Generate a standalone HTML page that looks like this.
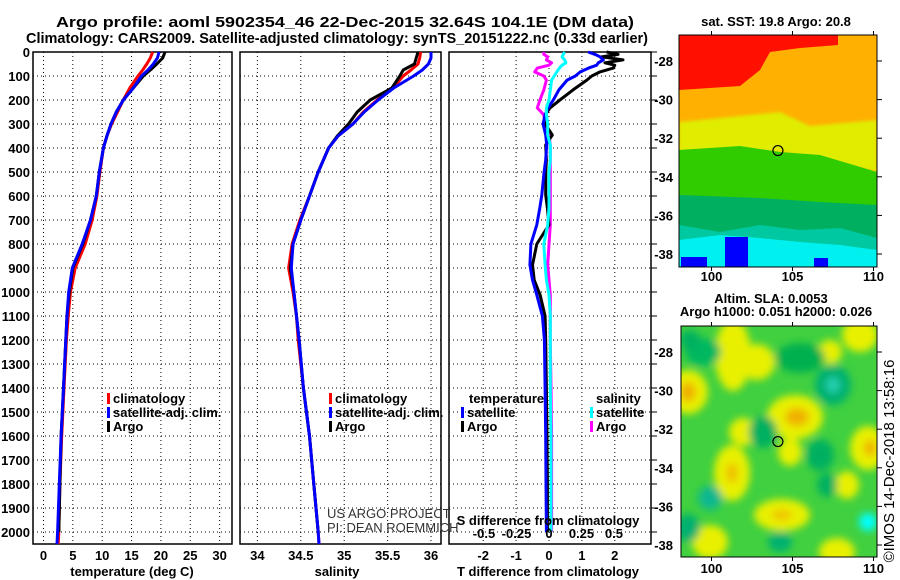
<!DOCTYPE html>
<html><head><meta charset="utf-8"><style>
html,body{margin:0;padding:0;background:#fff;}
svg{display:block;font-family:"Liberation Sans",Arial,sans-serif;}
.b{font-weight:bold;font-size:13px;}
</style></head><body>
<svg id="chart" width="900" height="580" viewBox="0 0 900 580" xmlns="http://www.w3.org/2000/svg">
<defs>
<filter id="blur" x="-20%" y="-20%" width="140%" height="140%"><feGaussianBlur stdDeviation="4"/></filter>
<filter id="blur2" x="-20%" y="-20%" width="140%" height="140%"><feGaussianBlur stdDeviation="1.5"/></filter>
<clipPath id="clipTop"><rect x="679" y="35" width="198" height="232"/></clipPath>
<clipPath id="clipBot"><rect x="681" y="326" width="196" height="231"/></clipPath>
</defs>
<text x="345" y="27" text-anchor="middle" font-weight="bold" font-size="15" textLength="578" lengthAdjust="spacingAndGlyphs">Argo profile: aoml 5902354_46 22-Dec-2015 32.64S 104.1E (DM data)</text>
<text x="337" y="43" text-anchor="middle" font-weight="bold" font-size="15" textLength="622" lengthAdjust="spacingAndGlyphs">Climatology: CARS2009. Satellite-adjusted climatology: synTS_20151222.nc (0.33d earlier)</text>
<g id="profiles"></g>
<g id="maps"></g>
</svg>
<script>
// ---- data ----
const depthTicks = [0,100,200,300,400,500,600,700,800,900,1000,1100,1200,1300,1400,1500,1600,1700,1800,1900,2000];
const tempTicks = [0,5,10,15,20,25,30];
const salTicks = [34,34.5,35,35.5,36];
const salTickLabels = ["34","34.5","35","35.5","36"];
const tdiffTicks = [-2,-1,0,1,2];
const sdiffTicks = [-0.5,-0.25,0,0.25,0.5];
const sdiffTickLabels = ["-0.5","-0.25","0","0.25","0.5"];

const profDepth = [0,25,50,75,100,150,200,250,300,350,400,500,600,700,800,900,1000,1100,1200,1400,1600,1800,2000,2050];
const climT = [18.6,18.2,17.6,16.9,16.1,14.7,13.6,12.6,11.6,10.8,10.2,9.6,9.1,8.3,7.1,5.4,4.6,4.2,3.9,3.5,3.1,2.8,2.6,2.5];
const satT  = [19.7,19.4,18.7,17.8,16.7,15.3,13.6,12.4,11.5,10.8,10.2,9.5,9.0,8.0,6.6,4.9,4.3,4.0,3.8,3.4,3.0,2.7,2.4,2.3];
const argoT = [20.7,20.3,19.3,18.2,17.0,15.3,13.6,12.4,11.5,10.8,10.2,9.5,9.0,8.0,6.7,5.0,4.4,4.0,3.8,3.4,3.0,2.8,2.6];
const climS = [35.88,35.87,35.85,35.77,35.68,35.56,35.38,35.22,35.1,34.93,34.82,34.7,34.6,34.49,34.4,34.36,34.41,34.45,34.47,34.53,34.6,34.65,34.7,34.71];
const satS  = [36.0,36.0,35.97,35.9,35.8,35.57,35.39,35.23,35.1,34.93,34.82,34.7,34.6,34.5,34.41,34.39,34.42,34.45,34.48,34.53,34.6,34.65,34.7,34.71];
const argoS = [35.85,35.83,35.81,35.68,35.64,35.55,35.3,35.15,35.05,34.92,34.82,34.7,34.6,34.5,34.41,34.38,34.42,34.45,34.48,34.53,34.6,34.65,34.7];

const diffDepth = [0,10,20,33,45,55,67,83,100,117,158,200,233,262,300,346,387,450,500,596,650,720,800,887,950,1012,1100,1200,1400,1600,1800,2000];
const argoTdiff = [1.75,2.1,1.6,2.25,1.7,2.0,1.95,1.55,1.3,1.15,0.73,0.33,0.03,-0.12,-0.12,0.1,-0.1,-0.08,-0.1,-0.1,-0.05,0,-0.37,-0.5,-0.45,-0.27,-0.12,-0.1,-0.08,-0.06,-0.05,-0.05];
const satTdiff  = [1.19,1.4,1.55,1.65,1.5,1.45,1.2,0.95,0.8,0.55,0.3,0.13,-0.03,-0.12,-0.18,-0.1,-0.07,-0.1,-0.15,-0.22,-0.28,-0.37,-0.55,-0.58,-0.5,-0.37,-0.2,-0.14,-0.12,-0.1,-0.09,-0.08];
const argoSdiff = [-0.04,-0.04,-0.01,-0.02,0.02,0.0,-0.09,-0.11,-0.04,-0.02,-0.04,-0.07,-0.09,-0.04,-0.03,0.0,0.01,0.01,0.01,0.01,0.01,0.01,0.0,-0.01,0.0,0.01,0.01,0.01,0.015,0.02,0.02,0.02];
const satSdiff  = [0.12,0.11,0.1,0.12,0.13,0.1,0.08,0.06,0.04,0.02,0.01,0.0,-0.02,-0.02,-0.01,-0.01,0.01,0.01,0.0,0.0,0.0,-0.01,-0.04,-0.03,-0.02,0.0,0.01,0.01,0.01,0.015,0.015,0.015];

const latTicks = [-28,-30,-32,-34,-36,-38];
const lonTicks = [100,105,110];
const argoLon = 104.1, argoLat = -32.64;

// ---- helpers ----
const NS = "http://www.w3.org/2000/svg";
function mk(tag, attrs, parent){const e=document.createElementNS(NS,tag);for(const k in attrs)e.setAttribute(k,attrs[k]);if(parent)parent.appendChild(e);return e;}
const P = document.getElementById('profiles');
const TOP = 52, BOT = 544;
const yD = d => TOP + d*0.24;
function lin(d0,d1,r0,r1){return v=>r0+(v-d0)*(r1-r0)/(d1-d0);}
const xT = lin(0,30,43.5,219.6);
const xS = lin(34,36,257.4,431);
const xTd = lin(0,1,549,581.9);
const xSd = lin(0,1,549,679);

function txt(x,y,s,anchor,cls,name,extra){const t=mk('text',Object.assign({x:x,y:y,'text-anchor':anchor||'start',class:cls||'b'},extra||{}),P);t.textContent=s;return t;}

function panel(x0,x1,name,xTickVals,xf,xTickLabs){
  const g = mk('g',{},P);
  
  
  depthTicks.forEach(d=>{mk('line',{x1:x0,x2:x1,y1:yD(d),y2:yD(d),stroke:'#000','stroke-dasharray':'1,3','stroke-width':1},g);});
  xTickVals.forEach((v,i)=>{const x=xf(v);mk('line',{x1:x,x2:x,y1:TOP,y2:BOT,stroke:'#000','stroke-dasharray':'1,3','stroke-width':1},g);
    if(xTickLabs){txt(x,560,xTickLabs[i],'middle','b',name+'-x-tick');}});
  mk('rect',{x:x0,y:TOP,width:x1-x0,height:BOT-TOP,fill:'none',stroke:'#000','stroke-width':1.5},g);
  return g;
}
panel(33,232,'temperature-panel',tempTicks,xT,tempTicks.map(String));
panel(240,441,'salinity-panel',salTicks,xS,salTickLabels);
panel(449,651,'difference-panel',tdiffTicks,xTd,tdiffTicks.map(String));
depthTicks.forEach(d=>{txt(30,yD(d)+5,String(d),'end','b','depth-tick-label');
  mk('line',{x1:651,x2:657,y1:yD(d),y2:yD(d),stroke:'#000','stroke-width':1},P);});

function line(xs,ds,xf,color,name,w){
  const pts = xs.map((v,i)=>xf(v).toFixed(1)+','+yD(ds[i]).toFixed(1)).join(' ');
  const pl = mk('polyline',{points:pts,fill:'none',stroke:color,'stroke-width':w||3,'stroke-linejoin':'round'},P);
  
  
}
line(climT,profDepth,xT,'#ff0000','temp-climatology-line');
line(argoT,profDepth.slice(0,argoT.length),xT,'#000','temp-argo-line');
line(satT,profDepth,xT,'#0000ff','temp-satellite-line');
line(climS,profDepth,xS,'#ff0000','sal-climatology-line');
line(argoS,profDepth.slice(0,argoS.length),xS,'#000','sal-argo-line');
line(satS,profDepth,xS,'#0000ff','sal-satellite-line');
line(argoSdiff,diffDepth,xSd,'#ff00ff','sdiff-argo-line');
line(argoTdiff,diffDepth,xTd,'#000','tdiff-argo-line');
line(satTdiff,diffDepth,xTd,'#0000ff','tdiff-satellite-line');
line(satSdiff,diffDepth,xSd,'#00ffff','sdiff-satellite-line');

sdiffTicks.forEach((v,i)=>{txt(xSd(v),538,sdiffTickLabels[i],'middle','b','sdiff-tick-label');});
txt(548,525,'S difference from climatology','middle','b','sdiff-axis-title');

txt(132,576,'temperature (deg C)','middle','b','temperature-axis-title');
txt(337,576,'salinity','middle','b','salinity-axis-title');
txt(548,576,'T difference from climatology','middle','b','tdiff-axis-title');

function legendItem(x,y,color,label,name){
  const r=mk('rect',{x:x,y:y-10,width:3,height:11,fill:color},P);
  
  
  txt(x+6,y,label,'start','b',name);
}
legendItem(107,403,'#ff0000','climatology','legend-climatology');
legendItem(107,417,'#0000ff','satellite-adj. clim.','legend-satellite-adj');
legendItem(107,431,'#000','Argo','legend-argo');
legendItem(329,403,'#ff0000','climatology','legend-sal-climatology');
legendItem(329,417,'#0000ff','satellite-adj. clim.','legend-sal-satellite-adj');
legendItem(329,431,'#000','Argo','legend-sal-argo');
txt(469,403,'temperature','start','b','legend-temperature-heading');
legendItem(461,417,'#0000ff','satellite','legend-tdiff-satellite');
legendItem(461,431,'#000','Argo','legend-tdiff-argo');
txt(596,403,'salinity','start','b','legend-salinity-heading');
legendItem(590,417,'#00ffff','satellite','legend-sdiff-satellite');
legendItem(590,431,'#ff00ff','Argo','legend-sdiff-argo');
txt(327,518,'US ARGO PROJECT','start','n','credit-project',{style:'font-size:13px;font-weight:normal;fill:#333'});
txt(327,532,'PI: DEAN ROEMMICH','start','n','credit-pi',{style:'font-size:13px;font-weight:normal;fill:#333'});

// ---- maps ----
const M = document.getElementById('maps');
function mapFrame(y0,name){
  const lx = lin(100,110,711.5,873.5);
  const ly = lin(-28,-38,y0+26,y0+219);
  const g = mk('g',{},M);
  
  
  return {lx,ly,g};
}
const sstMap = mapFrame(35,'sst-map');
(function(){
  const g=mk('g',{'clip-path':'url(#clipTop)'},sstMap.g);
  mk('rect',{x:679,y:35,width:198,height:232,fill:'#ffb000'},g);
  mk('polygon',{points:'679,35 838,35 838,45 800,48 770,52 760,70 740,86 679,90',fill:'#ff1000'},g);
  mk('polygon',{points:'679,122 740,116 780,112 810,126 877,120 877,172 820,160 780,152 740,152 679,158',fill:'#e0ec00',filter:'url(#blur2)'},g);
  mk('polygon',{points:'679,150 740,146 780,152 820,155 877,172 877,267 679,267',fill:'#30cc00'},g);
  mk('polygon',{points:'679,195 760,198 820,202 877,205 877,267 679,267',fill:'#00b060'},g);
  mk('polygon',{points:'679,225 720,232 760,225 800,230 840,228 877,238 877,267 679,267',fill:'#00c8a0'},g);
  mk('polygon',{points:'679,240 720,235 760,238 800,242 840,245 877,250 877,267 679,267',fill:'#00f0f0'},g);
  mk('rect',{x:681,y:257,width:26,height:10,fill:'#0000ff'},g);
  mk('rect',{x:725,y:237,width:23,height:30,fill:'#0000ff'},g);
  mk('rect',{x:814,y:258,width:14,height:9,fill:'#0000ff'},g);
})();
mk('rect',{x:679,y:35,width:198,height:232,fill:'none',stroke:'#000','stroke-width':1},sstMap.g);
const slaMap = mapFrame(326,'sla-map');
const blobs=[
 ['#e8f000',733,355,18,36],['#e8f000',757,362,18,18],['#e8f000',688,392,20,22],['#f0b000',688,392,8,10],
 ['#e8f000',795,417,28,22],['#f0b000',797,417,12,9],['#e8f000',860,335,18,17],['#e8f000',830,352,12,12],
 ['#e8f000',868,448,18,22],['#f0b000',870,448,6,8],['#e8f000',732,473,18,28],['#f0c000',732,473,6,10],
 ['#e8f000',782,515,28,16],['#f0c000',782,515,10,5],['#e8f000',710,542,18,17],['#e8f000',837,552,18,14],
 ['#e8f000',847,485,12,14],['#e8f000',743,432,14,14],['#e8f000',790,452,12,14],
 ['#00b860',703,352,18,14],['#00b070',833,385,18,20],['#20d0b0',833,385,7,8],['#00b060',763,432,14,16],
 ['#00b060',820,455,14,16],['#10b890',710,498,12,12],['#00b070',688,528,12,14],['#00b070',780,542,12,10],
 ['#00b060',827,485,10,12],['#00b050',800,358,25,15],['#00ffff',868,522,9,9],['#00b060',690,340,10,10]];
(function(){
  const g=mk('g',{'clip-path':'url(#clipBot)'},slaMap.g);
  mk('rect',{x:681,y:326,width:196,height:231,fill:'#40d040'},g);
  const gb=mk('g',{filter:'url(#blur)'},g);
  blobs.forEach(b=>mk('ellipse',{cx:b[1],cy:b[2],rx:b[3],ry:b[4],fill:b[0]},gb));
})();
mk('rect',{x:681,y:326,width:196,height:231,fill:'none',stroke:'#000','stroke-width':1},slaMap.g);

[[sstMap,35,267,281],[slaMap,326,557,573]].forEach(([m,y0,y1,ty])=>{
  latTicks.forEach(v=>{const y=m.ly(v);
    const t=mk('text',{x:673,y:y+5,'text-anchor':'end',class:'b'},M);t.textContent=String(v);
    
    
    mk('line',{x1:877,x2:882,y1:y,y2:y,stroke:'#000'},M);
  });
  lonTicks.forEach(v=>{const x=m.lx(v);
    const t=mk('text',{x:x,y:ty,'text-anchor':'middle',class:'b','font-size':'14'},M);t.textContent=String(v);
    
    
    mk('line',{x1:x,x2:x,y1:y0-4,y2:y0,stroke:'#000'},M);
    mk('line',{x1:x,x2:x,y1:y1,y2:y1+4,stroke:'#000'},M);
  });
  const c=mk('circle',{cx:m.lx(argoLon),cy:m.ly(argoLat),r:5,fill:'none',stroke:'#000','stroke-width':1.2},M);
  
  
});
function mtxt(x,y,s,name,extra){const t=mk('text',Object.assign({x:x,y:y,'text-anchor':'middle',class:'b'},extra||{}),M);t.textContent=s;}
mtxt(776,26,'sat. SST: 19.8 Argo: 20.8','sst-map-title');
mtxt(771,303,'Altim. SLA: 0.0053','sla-map-title');
mtxt(776,316,'Argo h1000: 0.051 h2000: 0.026','sla-map-subtitle');
mtxt(0,0,'\u00a9IMOS 14-Dec-2018 13:58:16','imos-credit',{transform:'translate(894,461) rotate(-90)',class:'n',style:'font-weight:normal;font-size:15px'});
</script>
</body></html>
